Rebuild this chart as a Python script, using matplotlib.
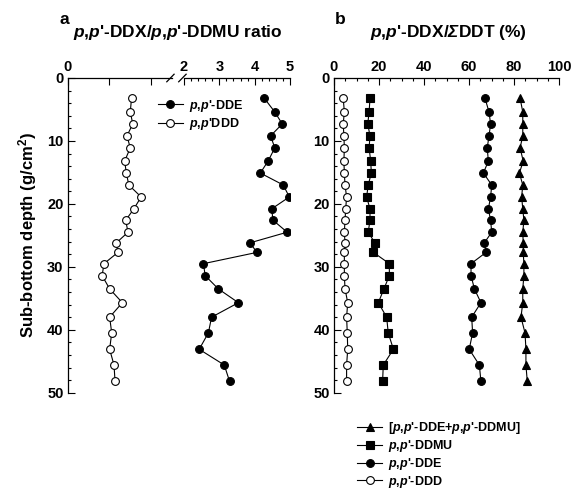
import matplotlib.pyplot as plt
from matplotlib.ticker import MultipleLocator
from matplotlib.lines import Line2D

plt.rcParams['font.family'] = ['Liberation Sans', 'DejaVu Sans']
plt.rcParams['font.weight'] = 'bold'
plt.rcParams['axes.labelweight'] = 'bold'
plt.rcParams['mathtext.fontset'] = 'custom'
plt.rcParams['mathtext.rm'] = 'Liberation Sans:bold'
plt.rcParams['mathtext.it'] = 'Liberation Sans:italic:bold'
plt.rcParams['mathtext.bf'] = 'Liberation Sans:bold'
plt.rcParams['mathtext.sf'] = 'Liberation Sans:italic:bold'  # used for the italic sigma

# sub-bottom depth (g/cm2)
depth = [3.2, 5.4, 7.3, 9.2, 11.1, 13.2, 15.1, 17.0, 18.9, 20.8, 22.6, 24.5,
         26.2, 27.7, 29.5, 31.4, 33.5, 35.7, 38.0, 40.5, 43.1, 45.6, 48.2]

# panel a: ratios to p,p'-DDMU
ratio_dde = [4.27, 4.57, 4.78, 4.45, 4.57, 4.38, 4.16, 4.81, 4.98, 4.48, 4.52, 4.92,
             3.86, 4.07, 2.55, 2.60, 2.97, 3.54, 2.78, 2.69, 2.43, 3.14, 3.29]
ratio_ddd = [0.306, 0.300, 0.312, 0.284, 0.300, 0.273, 0.281, 0.293, 0.352, 0.317,
             0.278, 0.289, 0.233, 0.241, 0.174, 0.165, 0.201, 0.262, 0.201, 0.211,
             0.201, 0.222, 0.227]

# panel b: percent of sum DDT
pct_sum = [82.7, 83.9, 83.9, 83.9, 82.7, 84.1, 82.4, 83.9, 83.4, 83.9, 84.4, 83.9,
           84.1, 84.1, 84.4, 84.4, 83.9, 83.9, 83.1, 84.9, 85.3, 85.3, 85.9]
pct_ddmu = [16.0, 15.6, 15.0, 16.0, 15.6, 16.3, 16.6, 15.2, 14.5, 16.0, 16.0, 15.2,
            18.2, 17.5, 24.6, 24.6, 22.2, 19.7, 23.4, 24.1, 26.4, 21.9, 21.6]
pct_dde = [67.1, 68.9, 69.6, 68.9, 68.1, 68.6, 66.4, 70.1, 69.6, 68.6, 69.6, 70.1,
           66.8, 67.6, 60.9, 60.9, 62.4, 65.3, 61.2, 61.6, 60.1, 64.6, 65.3]
pct_ddd = [4.1, 4.6, 4.1, 4.4, 4.6, 4.4, 4.6, 4.9, 5.6, 5.2, 4.9, 4.6,
           4.9, 4.6, 4.6, 4.6, 4.9, 6.1, 5.6, 5.9, 6.1, 5.6, 5.6]

pp = r"$p$,$p$'"

W, H = 572, 490
fig = plt.figure(figsize=(W / 100, H / 100), dpi=100)


def box(x0, x1, y0=78, y1=392.7):
    return [x0 / W, 1 - y1 / H, (x1 - x0) / W, (y1 - y0) / H]


def style(ax, left=True):
    ax.xaxis.tick_top()
    ax.xaxis.set_label_position('top')
    ax.spines['right'].set_visible(False)
    ax.spines['bottom'].set_visible(False)
    ax.spines['left'].set_visible(left)
    ax.set_ylim(50, 0)
    ax.yaxis.set_major_locator(MultipleLocator(10))
    ax.yaxis.set_minor_locator(MultipleLocator(2))
    ax.tick_params(which='both', direction='in', labelsize=10.5, pad=3,
                   width=0.8, top=True, bottom=False, right=False, left=left,
                   labelleft=left)
    ax.tick_params(which='major', length=5)
    ax.tick_params(which='minor', length=2.5)
    for s in ax.spines.values():
        s.set_linewidth(0.9)


line = dict(color='k', lw=0.8, ms=5.6, mec='k', mew=0.8)

# panel a, left part of the broken axis
ax1 = fig.add_axes(box(67.7, 172))
style(ax1)
ax1.plot(ratio_ddd, depth, marker='o', mfc='white', **line)
ax1.set_xlim(0, 0.5)
ax1.set_xticks([0, 0.2, 0.4])
ax1.set_xticklabels(['0', '', ''])
ax1.set_ylabel('Sub-bottom depth (g/cm$^2$)', fontsize=12, labelpad=6)

# panel a, right part
ax2 = fig.add_axes(box(184, 290))
style(ax2, left=False)
ax2.plot(ratio_dde, depth, marker='o', mfc='k', **line)
ax2.set_xlim(2, 5)
ax2.xaxis.set_major_locator(MultipleLocator(1))
ax2.xaxis.set_minor_locator(MultipleLocator(0.2))

# break marks
d = dict(color='k', lw=0.9, clip_on=False)
ax1.plot([1 - 0.05, 1 + 0.02], [1 - 0.012, 1 + 0.012], transform=ax1.transAxes, **d)
ax2.plot([-0.05, 0.02], [1 - 0.012, 1 + 0.012], transform=ax2.transAxes, **d)

fig.text(60 / W, 1 - 20 / H, 'a', fontsize=12.5, ha='left', va='center')
fig.text(178 / W, 1 - 33 / H, pp + '-DDX/' + pp + '-DDMU ratio',
         fontsize=12.5, ha='center', va='center')

h_dde = Line2D([], [], marker='o', mfc='k', **line)
h_ddd = Line2D([], [], marker='o', mfc='white', **line)
fig.legend([h_dde, h_ddd], [pp + '-DDE', pp + 'DDD'], loc='center left',
           bbox_to_anchor=(158 / W, 1 - 115 / H), frameon=False, fontsize=9,
           handlelength=2.0, handletextpad=0.5, labelspacing=0.2,
           borderpad=0, borderaxespad=0)

# panel b
ax3 = fig.add_axes(box(334, 559))
style(ax3)
ax3.plot(pct_sum, depth, marker='^', mfc='k', **line)
ax3.plot(pct_ddmu, depth, marker='s', mfc='k', **line)
ax3.plot(pct_dde, depth, marker='o', mfc='k', **line)
ax3.plot(pct_ddd, depth, marker='o', mfc='white', **line)
ax3.set_xlim(0, 100)
ax3.xaxis.set_major_locator(MultipleLocator(20))
ax3.xaxis.set_minor_locator(MultipleLocator(5))

fig.text(335 / W, 1 - 20 / H, 'b', fontsize=12.5, ha='left', va='center')
fig.text(448 / W, 1 - 33 / H, pp + r'-DDX/$\mathsf{Σ}$DDT (%)',
         fontsize=12.5, ha='center', va='center')

hb = [Line2D([], [], marker='^', mfc='k', **line),
      Line2D([], [], marker='s', mfc='k', **line),
      Line2D([], [], marker='o', mfc='k', **line),
      Line2D([], [], marker='o', mfc='white', **line)]
lb = ['[' + pp + '-DDE+' + pp + '-DDMU]', pp + '-DDMU', pp + '-DDE', pp + '-DDD']
fig.legend(hb, lb, loc='center left', bbox_to_anchor=(357 / W, 1 - 455 / H),
           frameon=False, fontsize=9, handlelength=2.0, handletextpad=0.5,
           labelspacing=0.15, borderpad=0, borderaxespad=0)

fig.savefig('out.png', dpi=100)
